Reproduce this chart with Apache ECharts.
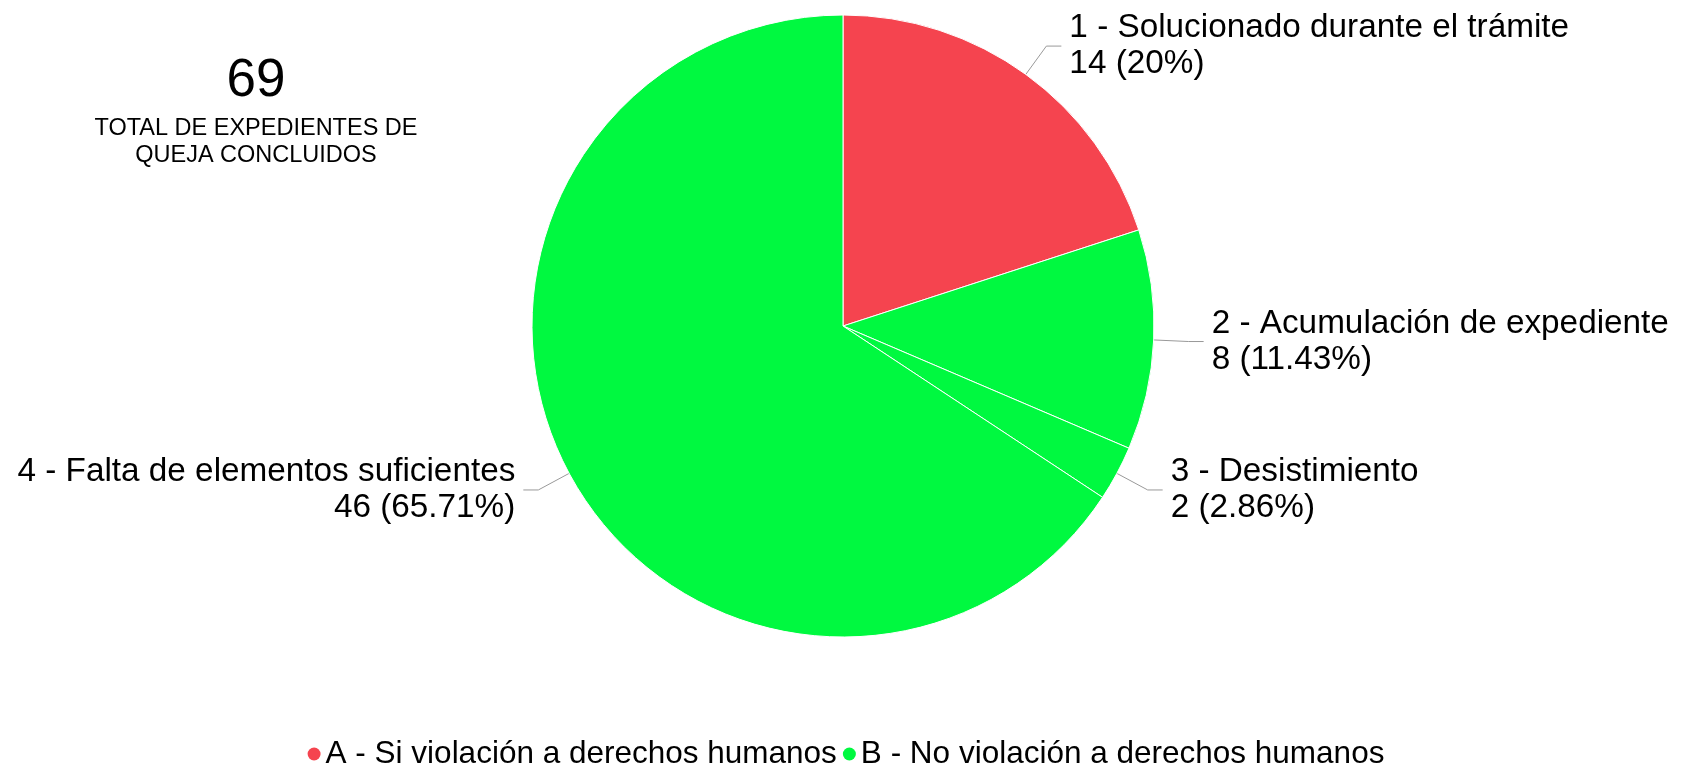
<!DOCTYPE html>
<html>
<head>
<meta charset="utf-8">
<script src="https://cdn.jsdelivr.net/npm/echarts@6/dist/echarts.min.js"></script>
<style>
  html, body { margin: 0; padding: 0; background: #fff; }
  #chart { width: 1692px; height: 768px; }
</style>
</head>
<body>
<div id="chart"></div>
<script>
// data
const categories = [
  '1 - Solucionado durante el trámite',
  '2 - Acumulación de expediente',
  '3 - Desistimiento',
  '4 - Falta de elementos suficientes'
]
const values = [14, 8, 2, 46]
const groupOf = ['A', 'B', 'B', 'B']
const groupNames = {
  A: 'A - Si violación a derechos humanos',
  B: 'B - No violación a derechos humanos'
}
const groupColors = { A: '#F5444F', B: '#00F940' }
const totalLabel = '69'
const totalText = 'TOTAL DE EXPEDIENTES DE\nQUEJA CONCLUIDOS'

const font = 'Liberation Sans, Arial, sans-serif'
const chart = echarts.init(document.getElementById('chart'))

chart.setOption({
  animation: false,
  title: {
    text: totalLabel,
    subtext: totalText,
    left: 251,
    top: 50,
    textAlign: 'center',
    itemGap: 7,
    textStyle: { fontFamily: font, fontSize: 53, fontWeight: 'normal', color: '#000' },
    subtextStyle: { fontFamily: font, fontSize: 23.5, lineHeight: 27, color: '#000' }
  },
  legend: {
    data: Object.keys(groupNames).map(k => ({ name: groupNames[k], icon: 'circle' })),
    left: 'center',
    top: 733,
    itemWidth: 13,
    itemHeight: 13,
    itemGap: 6,
    selectedMode: false,
    textStyle: { fontFamily: font, fontSize: 31.5, color: '#000' }
  },
  series: [
    {
      type: 'pie',
      name: 'Expedientes',
      center: [843, 326],
      radius: 311,
      startAngle: 90,
      clockwise: true,
      legendHoverLink: false,
      itemStyle: { borderColor: '#fff', borderWidth: 1 },
      label: {
        show: true,
        position: 'outside',
        formatter: '{b}\n{c} ({d}%)',
        fontFamily: font,
        fontSize: 33.3,
        lineHeight: 36,
        color: '#000',
        overflow: 'none',
        distanceToLabelLine: 8
      },
      labelLine: {
        show: true,
        length: 35,
        length2: 15,
        lineStyle: { color: '#999', width: 1 }
      },
      emphasis: { disabled: true },
      data: categories.map((name, i) => ({
        name: name,
        value: values[i],
        itemStyle: { color: groupColors[groupOf[i]] }
      }))
    },
    // empty series, only to give the legend its two groups
    ...Object.keys(groupNames).map(k => ({
      type: 'pie',
      name: groupNames[k],
      itemStyle: { color: groupColors[k] },
      data: []
    }))
  ]
})
</script>
</body>
</html>
